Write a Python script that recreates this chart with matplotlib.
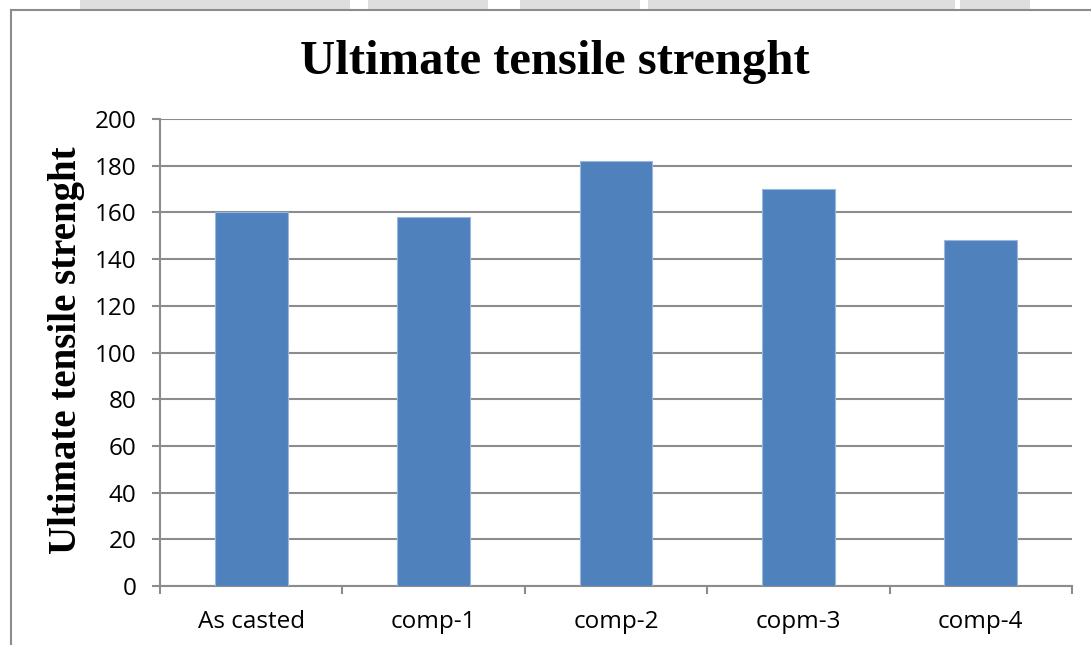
import matplotlib
matplotlib.use("Agg")
import matplotlib.pyplot as plt
from matplotlib.patches import Rectangle
from matplotlib.lines import Line2D

categories = ["As casted", "comp-1", "comp-2", "copm-3", "comp-4"]
uts_values = [160, 158, 182, 170, 148]
y_ticks = [0, 20, 40, 60, 80, 100, 120, 140, 160, 180, 200]

title_text = "Ultimate tensile strenght"
ylabel_text = "Ultimate tensile strenght"

W, H = 1091, 645
fig = plt.figure(figsize=(W / 100, H / 100), dpi=100)
fig.patch.set_facecolor("white")

# faint grey band along the top edge
for x0, x1 in [(80, 350), (368, 488), (520, 640), (648, 955), (960, 1030)]:
    fig.add_artist(Rectangle((x0 / W, 1 - 10 / H), (x1 - x0) / W, 10 / H,
                             transform=fig.transFigure, facecolor="#dedede",
                             edgecolor="none", zorder=0))

# chart frame
frame_col = "#8c8c8c"
fig.add_artist(Line2D([11 / W, 11 / W], [1 - 10 / H, 0], transform=fig.transFigure,
                      color=frame_col, lw=1.5))
fig.add_artist(Line2D([11 / W, 1], [1 - 10 / H, 1 - 10 / H], transform=fig.transFigure,
                      color=frame_col, lw=1.5))

left, right, top, bottom = 160, 1072, 119, 586
ax = fig.add_axes([left / W, 1 - bottom / H, (right - left) / W, (bottom - top) / H])

x = list(range(len(categories)))
ax.bar(x, uts_values, width=0.4, color="#4F81BD", edgecolor="#9bb7de",
       linewidth=0.8, zorder=3)

ax.set_xlim(-0.5, len(categories) - 0.5)
ax.set_ylim(0, 200)
ax.set_yticks(y_ticks)
ax.yaxis.grid(True, color="#8c8c8c", linewidth=1.5, zorder=0)
ax.set_axisbelow(True)

for s in ["top", "right"]:
    ax.spines[s].set_visible(False)
for s in ["left", "bottom"]:
    ax.spines[s].set_color("#8c8c8c")
    ax.spines[s].set_linewidth(1.5)

tick_font = {"family": "Open Sans", "size": 17.5}
ax.set_xticks(x)
ax.set_xticklabels(categories, fontdict=tick_font)
ax.set_xticks([i - 0.5 for i in range(len(categories) + 1)], minor=True)
ax.tick_params(axis="x", which="major", length=0, pad=17.5)
ax.tick_params(axis="x", which="minor", length=6, width=1.5, color="#8c8c8c",
               direction="out")
ax.set_yticklabels([str(v) for v in y_ticks], fontdict=tick_font)
ax.tick_params(axis="y", length=6, width=1.5, color="#8c8c8c", pad=11)

fig.text(555 / W, 1 - 62 / H, title_text, ha="center", va="center",
         fontfamily="Liberation Serif", fontweight="bold", fontsize=35)
fig.text(67 / W, 1 - 350 / H, ylabel_text, ha="center", va="center", rotation=90,
         fontfamily="Liberation Serif", fontweight="bold", fontsize=28)

fig.savefig("out.png", dpi=100, facecolor="white")
